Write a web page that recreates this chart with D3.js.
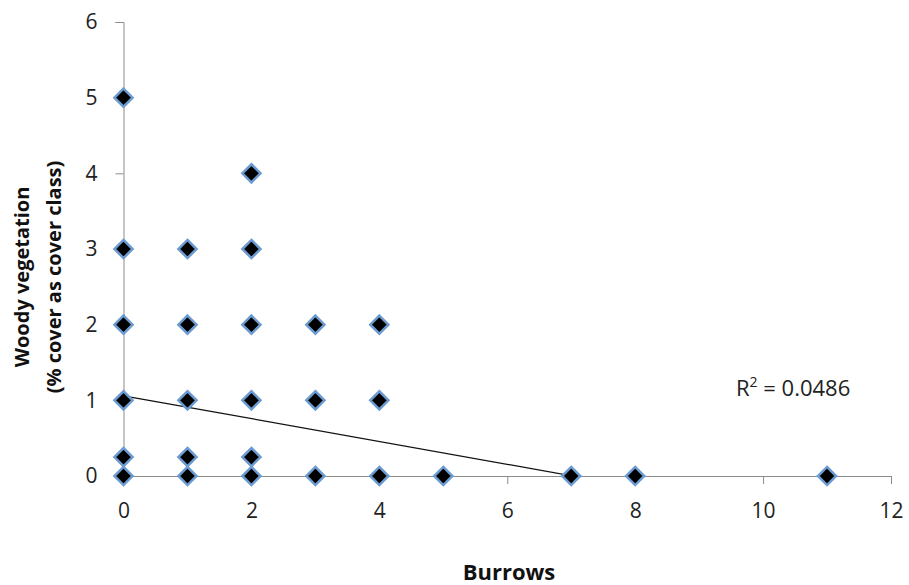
<html>
<head>
<script src="https://cdn.jsdelivr.net/npm/d3@7"></script>
<style>
  body { margin: 0; background: #fff; }
  text { font-family: "Open Sans", "Liberation Sans", sans-serif; }
</style>
</head>
<body>
<div id="chart"></div>
<script>
// Burrows vs woody vegetation cover class
var burrows = [0, 0, 0, 0, 0, 0, 1, 1, 1, 1, 1, 2, 2, 2, 2, 2, 2, 3, 3, 3, 4, 4, 4, 5, 7, 8, 11];
var woody   = [5, 3, 2, 1, 0.25, 0, 3, 2, 1, 0.25, 0, 4, 3, 2, 1, 0.25, 0, 2, 1, 0, 2, 1, 0, 0, 0, 0, 0];
var xTicks = [0, 2, 4, 6, 8, 10, 12];
var yTicks = [0, 1, 2, 3, 4, 5, 6];
// linear trendline
var trendIntercept = 1.06,
    trendSlope = -0.151;
var r2Label = "0.0486";

var svg = d3.select("#chart").append("svg").attr("width", 909).attr("height", 585);

var x = d3.scaleLinear().domain([0, 12]).range([123.5, 891]),
    y = d3.scaleLinear().domain([0, 6]).range([476, 22]);

// axes
var xAxis = svg.append("g").attr("transform", "translate(0,476)")
  .call(d3.axisBottom(x).tickValues(xTicks).tickFormat(d3.format("d")).tickSize(8).tickPadding(19));
var yAxis = svg.append("g").attr("transform", "translate(123.5,0)")
  .call(d3.axisLeft(y).tickValues(yTicks).tickFormat(d3.format("d")).tickSize(8).tickPadding(18));

[xAxis, yAxis].forEach(function(a){
  a.select(".domain").attr("stroke", "#8c8c8c");
  a.selectAll(".tick line").attr("stroke", "#8c8c8c");
  a.selectAll(".tick text").attr("fill", "#222").style("font-size", "21px")
   .style("font-family", "'Open Sans', sans-serif");
});

// clip to the plot area for the trendline
svg.append("clipPath").attr("id", "plot").append("rect")
  .attr("x", x(0)).attr("y", y(6)).attr("width", x(12) - x(0)).attr("height", y(0) - y(6));

// trendline
svg.append("line")
  .attr("clip-path", "url(#plot)")
  .attr("x1", x(0)).attr("y1", y(trendIntercept))
  .attr("x2", x(11)).attr("y2", y(trendIntercept + trendSlope * 11))
  .attr("stroke", "#111").attr("stroke-width", 1.2);

// points
var diamond = d3.symbol().type(d3.symbolDiamond2).size(210);
svg.append("g").selectAll("path").data(d3.range(burrows.length)).enter()
  .append("path")
  .attr("d", diamond)
  .attr("transform", function(i){ return "translate(" + x(burrows[i]) + "," + y(woody[i]) + ")"; })
  .attr("fill", "#000")
  .attr("stroke", "#6b9bd1")
  .attr("stroke-width", 2.5);

// R squared label
var r2 = svg.append("text").attr("x", 736).attr("y", 396).attr("fill", "#222").style("font-size", "22px");
r2.append("tspan").text("R");
r2.append("tspan").attr("dy", -9).style("font-size", "14px").text("2");
r2.append("tspan").attr("dy", 9).text(" = " + r2Label);

// axis titles
svg.append("text").attr("x", 509).attr("y", 580).attr("text-anchor", "middle")
  .style("font-size", "22px").style("font-weight", "bold").attr("fill", "#111").text("Burrows");

var yt = svg.append("g").attr("transform", "translate(0,277) rotate(-90)");
yt.append("text").attr("x", 0).attr("y", 29).attr("text-anchor", "middle")
  .style("font-size", "20px").style("font-weight", "bold").attr("fill", "#111").text("Woody vegetation");
yt.append("text").attr("x", 0).attr("y", 61).attr("text-anchor", "middle")
  .style("font-size", "20px").style("font-weight", "bold").attr("fill", "#111").text("(% cover as cover class)");
</script>
</body>
</html>
